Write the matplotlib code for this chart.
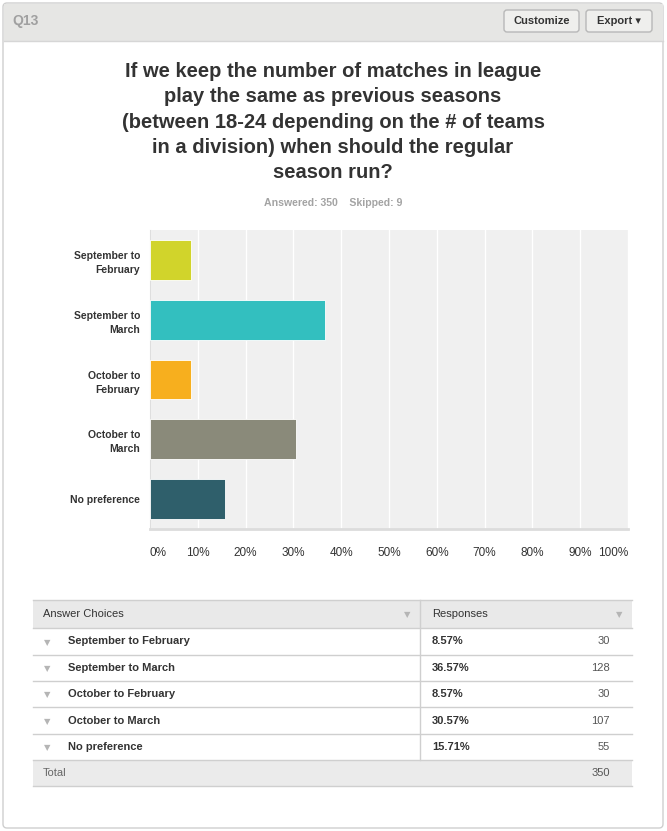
import matplotlib.pyplot as plt
from matplotlib.patches import FancyBboxPatch, Rectangle
import numpy as np

plt.rcParams['font.family'] = ['Liberation Sans', 'DejaVu Sans']

# данные
choices = ['September to February', 'September to March', 'October to February',
           'October to March', 'No preference']
axis_labels = ['September to\nFebruary', 'September to\nMarch', 'October to\nFebruary',
               'October to\nMarch', 'No preference']
percents = [8.57, 36.57, 8.57, 30.57, 15.71]
counts = [30, 128, 30, 107, 55]
total = 350
skipped = 9
bar_colors = ['#d1d42b', '#33bfbf', '#f7af1e', '#8a8a7a', '#2f5f6b']
tick_values = [0, 10, 20, 30, 40, 50, 60, 70, 80, 90, 100]
title = ('If we keep the number of matches in league\nplay the same as previous seasons\n'
         '(between 18-24 depending on the # of teams\nin a division) when should the regular\nseason run?')

W, H = 667, 831
fig = plt.figure(figsize=(W / 100, H / 100), dpi=100)

# фон в пиксельных координатах
bg = fig.add_axes([0, 0, 1, 1])
bg.set_xlim(0, W)
bg.set_ylim(H, 0)
bg.axis('off')

bg.add_patch(FancyBboxPatch((3, 3), 660, 825, boxstyle='round,pad=0,rounding_size=4',
                            fc='white', ec='#cfcfcf', lw=1))
bg.add_patch(Rectangle((3.5, 3.5), 659, 37, fc='#e6e6e4', ec='none'))
bg.plot([3.5, 662.5], [40.5, 40.5], c='#d6d6d6', lw=1)
bg.text(12, 21, 'Q13', fontsize=10, fontweight='bold', color='#a0a0a0', va='center')

# кнопки
for x0, x1, label in [(504, 579, 'Customize'), (586, 652, 'Export \u25be')]:
    bg.add_patch(FancyBboxPatch((x0, 10), x1 - x0, 22, boxstyle='round,pad=0,rounding_size=3',
                                fc='#efefed', ec='#b8b8b8', lw=1))
    bg.text((x0 + x1) / 2, 21.5, label, fontsize=8, fontweight='bold', color='#333333',
            ha='center', va='center', family=['Liberation Sans', 'DejaVu Sans'])

bg.text(333, 122, title, fontsize=14.5, fontweight='bold', color='#333333',
        ha='center', va='center', linespacing=1.41)
bg.text(333, 203, 'Answered: %d    Skipped: %d' % (total, skipped), fontsize=7.6,
        fontweight='bold', color='#a3a3a3', ha='center', va='center')

# таблица
tx0, tx1, tdiv = 33, 632, 420
rows_y = [628, 655, 681, 707, 734, 760]
bg.add_patch(Rectangle((tx0, 600), tx1 - tx0, 28, fc='#e9e9e9', ec='none'))
bg.add_patch(Rectangle((tx0, 760), tx1 - tx0, 26, fc='#ebebeb', ec='none'))
for y in [600, 628, 655, 681, 707, 734, 760, 786]:
    bg.plot([tx0, tx1], [y, y], c='#cfcfcf', lw=1)
bg.plot([tdiv, tdiv], [600, 760], c='#cfcfcf', lw=1)
bg.text(43, 614, 'Answer Choices', fontsize=8, color='#333333', va='center')
bg.text(432, 614, 'Responses', fontsize=8, color='#333333', va='center')
bg.text(407, 615, '\u25bc', fontsize=6, color='#b5b5b5', ha='center', va='center', family='DejaVu Sans')
bg.text(619, 615, '\u25bc', fontsize=6, color='#b5b5b5', ha='center', va='center', family='DejaVu Sans')
for i in range(len(choices)):
    yc = (rows_y[i] + rows_y[i + 1]) / 2
    bg.text(47, yc + 1, '\u25bc', fontsize=6, color='#b5b5b5', ha='center', va='center', family='DejaVu Sans')
    bg.text(68, yc, choices[i], fontsize=8, fontweight='bold', color='#333333', va='center')
    bg.text(432, yc, '%.2f%%' % percents[i], fontsize=8, fontweight='bold', color='#333333', va='center')
    bg.text(610, yc, str(counts[i]), fontsize=8, color='#555555', ha='right', va='center')
bg.text(43, 773, 'Total', fontsize=8, color='#666666', va='center')
bg.text(610, 773, str(total), fontsize=8, color='#555555', ha='right', va='center')

# график
left, right, top, bottom = 150, 628, 230, 529
ax = fig.add_axes([left / W, 1 - bottom / H, (right - left) / W, (bottom - top) / H])
ax.set_facecolor('#f0f0f0')
y = np.arange(len(percents))
ax.barh(y, percents, height=0.667, color=bar_colors, edgecolor='white', linewidth=0.6, zorder=3)
ax.set_xlim(0, 100)
ax.set_ylim(len(percents) - 0.5, -0.5)
ax.set_xticks(tick_values)
ax.set_xticklabels(['%d%%' % v for v in tick_values])
ax.set_yticks(y)
ax.set_yticklabels(axis_labels, fontweight='bold', fontsize=7.5, color='#333333', linespacing=1.5)
ax.tick_params(length=0, pad=7)
ax.tick_params(axis='x', labelsize=8.5, labelcolor='#333333', pad=13)
labels = ax.get_xticklabels()
labels[0].set_ha('left')
labels[-1].set_ha('right')
ax.grid(axis='x', color='white', lw=1, zorder=1)
for s in ['top', 'right']:
    ax.spines[s].set_visible(False)
ax.spines['left'].set_color('#dedede')
ax.spines['bottom'].set_color('#dcdcdc')
ax.spines['bottom'].set_linewidth(2)

fig.savefig('out.png', dpi=100)
